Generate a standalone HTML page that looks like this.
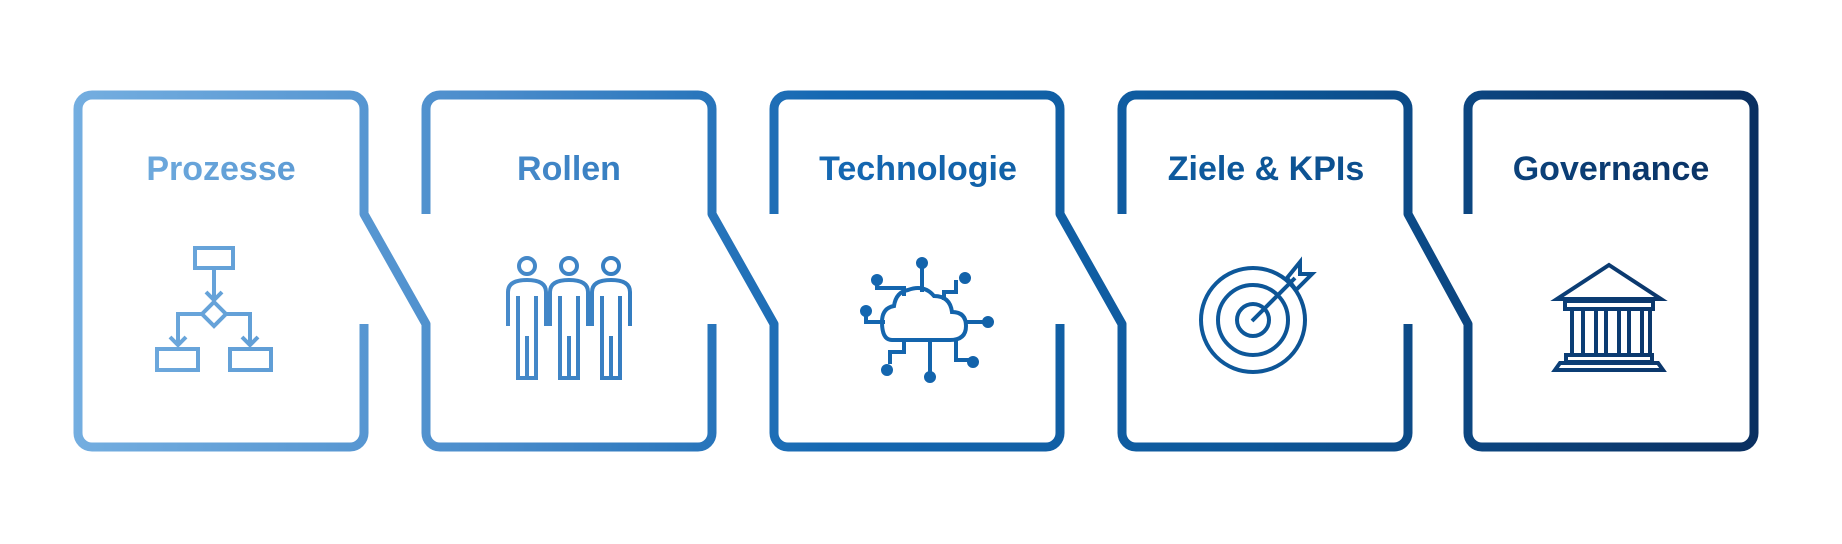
<!DOCTYPE html>
<html><head><meta charset="utf-8"><style>
html,body{margin:0;padding:0;background:#fff;width:1842px;height:544px;overflow:hidden}
svg{display:block}
text{font-family:"Liberation Sans Narrow","Liberation Sans",sans-serif;font-weight:bold;font-size:34px;text-anchor:middle}
</style></head><body>
<svg width="1842" height="544" viewBox="0 0 1842 544" xmlns="http://www.w3.org/2000/svg">
<defs>
<linearGradient id="g" gradientUnits="userSpaceOnUse" x1="70" y1="0" x2="1760" y2="0">
<stop offset="0" stop-color="#74aee0"/>
<stop offset="0.25" stop-color="#4a8ccb"/>
<stop offset="0.45" stop-color="#1568b2"/>
<stop offset="0.7" stop-color="#0d5799"/>
<stop offset="1" stop-color="#0a2f60"/>
</linearGradient>
</defs>
<g fill="none" stroke="url(#g)" stroke-width="9" stroke-linejoin="round" stroke-linecap="butt">
<path d="M364 324 L364 433 A14 14 0 0 1 350 447 L92 447 A14 14 0 0 1 78 433 L78 109 A14 14 0 0 1 92 95 L350 95 A14 14 0 0 1 364 109 L364 214 L426 324 L426 433 A14 14 0 0 0 440 447 L698 447 A14 14 0 0 0 712 433 L712 324"/>
<path d="M426 214 L426 109 A14 14 0 0 1 440 95 L698 95 A14 14 0 0 1 712 109 L712 214 L774 324 L774 433 A14 14 0 0 0 788 447 L1046 447 A14 14 0 0 0 1060 433 L1060 324"/>
<path d="M774 214 L774 109 A14 14 0 0 1 788 95 L1046 95 A14 14 0 0 1 1060 109 L1060 214 L1122 324 L1122 433 A14 14 0 0 0 1136 447 L1394 447 A14 14 0 0 0 1408 433 L1408 324"/>
<path d="M1122 214 L1122 109 A14 14 0 0 1 1136 95 L1394 95 A14 14 0 0 1 1408 109 L1408 214 L1468 324 L1468 433 A14 14 0 0 0 1482 447 L1740 447 A14 14 0 0 0 1754 433 L1754 109 A14 14 0 0 0 1740 95 L1482 95 A14 14 0 0 0 1468 109 L1468 214"/>
</g>
<g fill="url(#g)">
<text x="221" y="180">Prozesse</text>
<text x="569" y="180">Rollen</text>
<text x="918" y="180">Technologie</text>
<text x="1266" y="180">Ziele &amp; KPIs</text>
<text x="1611" y="180">Governance</text>
</g>
<g fill="none" stroke="url(#g)" stroke-width="4" stroke-linejoin="miter">
<rect x="195" y="248" width="38" height="20"/>
<path d="M214 268 V300 M206 292 L214 300 L222 292"/>
<path d="M214 302 L226 314 L214 326 L202 314 Z"/>
<path d="M202 314 H178 V345 M170 337 L178 345 L186 337"/>
<path d="M226 314 H250 V345 M242 337 L250 345 L258 337"/>
<rect x="157" y="349" width="41" height="21"/>
<rect x="230" y="349" width="41" height="21"/>
<circle cx="527" cy="266" r="8"/><circle cx="569" cy="266" r="8"/><circle cx="611" cy="266" r="8"/>
<path d="M508 326 V292 Q508 280 527 280 Q546 280 546 292 V326 M518 296 V378 H536 V296 M527 336 V378"/>
<path d="M550 326 V292 Q550 280 569 280 Q588 280 588 292 V326 M560 296 V378 H578 V296 M569 336 V378"/>
<path d="M592 326 V292 Q592 280 611 280 Q630 280 630 292 V326 M602 296 V378 H620 V296 M611 336 V378"/>
<path d="M892 340 H950 Q966 340 966 326 Q966 312 952 312 Q950 296 934 296 Q924 284 908 290 Q896 292 894 306 Q882 308 882 322 Q882 340 892 340 Z"/>
<path d="M922 292 V266"/>
<circle cx="922" cy="263" r="4" fill="url(#g)"/>
<path d="M904 296 V288 H877 V281"/><circle cx="877" cy="280" r="4" fill="url(#g)"/>
<path d="M944 300 V292 H956 V280"/><circle cx="965" cy="278" r="4" fill="url(#g)"/>
<path d="M885 322 H866 V312"/><circle cx="866" cy="311" r="4" fill="url(#g)"/>
<path d="M966 322 H985"/><circle cx="988" cy="322" r="4" fill="url(#g)"/>
<path d="M904 340 V352 H890 V364"/><circle cx="887" cy="370" r="4" fill="url(#g)"/>
<path d="M930 340 V372"/><circle cx="930" cy="377" r="4" fill="url(#g)"/>
<path d="M956 340 V360 H970"/><circle cx="973" cy="362" r="4" fill="url(#g)"/>
<circle cx="1253" cy="320" r="52"/>
<circle cx="1253" cy="320" r="35"/>
<circle cx="1253" cy="320" r="16"/>
<path d="M1252 321 L1295 278"/>
<path d="M1287 278 L1300 262 L1300 274 L1312 274 L1296 290 Z"/>
<path d="M1609 265 L1661 299 H1557 Z"/>
<rect x="1565" y="301" width="88" height="8"/>
<path d="M1572 310 V355 M1583 310 V355 M1596 310 V355 M1606 310 V355 M1619 310 V355 M1629 310 V355 M1642 310 V355 M1650 310 V355"/>
<rect x="1566" y="355" width="86" height="7"/>
<path d="M1560 363 H1658 L1663 370 H1555 Z"/>
</g>
</svg>
</body></html>
